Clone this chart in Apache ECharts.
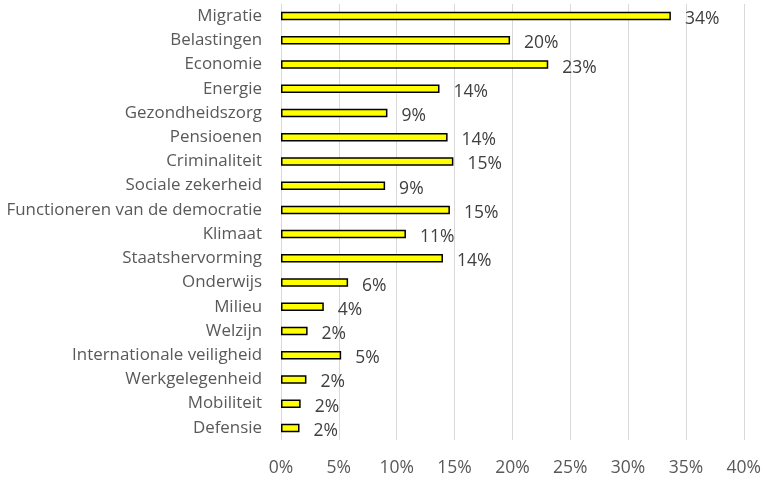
<!DOCTYPE html>
<html><head><meta charset="utf-8">
<script src="https://cdn.jsdelivr.net/npm/echarts@6/dist/echarts.min.js"></script>
<style>html,body{margin:0;padding:0;background:#fff}#c{width:764px;height:481px}</style>
</head><body><div id="c"></div>
<script>
const categories = ["Migratie","Belastingen","Economie","Energie","Gezondheidszorg","Pensioenen","Criminaliteit","Sociale zekerheid","Functioneren van de democratie","Klimaat","Staatshervorming","Onderwijs","Milieu","Welzijn","Internationale veiligheid","Werkgelegenheid","Mobiliteit","Defensie"];
const values = [33.7,19.8,23.1,13.7,9.2,14.4,14.9,9.0,14.6,10.8,14.0,5.8,3.7,2.3,5.2,2.2,1.7,1.6];
const xTicks = [0,5,10,15,20,25,30,35,40];

const chart = echarts.init(document.getElementById('c'), null, {renderer:'canvas'});
const font = '"Open Sans", sans-serif';
chart.setOption({
  animation:false,
  grid:{left:281, right:19.3, top:4, bottom:41, containLabel:false},
  xAxis:{type:'value', min:xTicks[0], max:xTicks[xTicks.length-1], interval:xTicks[1]-xTicks[0],
    axisLine:{show:false}, axisTick:{show:false},
    splitLine:{show:true, lineStyle:{color:'#d9d9d9', width:1}},
    axisLabel:{formatter:v=>v+'%', color:'#595959', fontSize:17.5, fontFamily:font, margin:19}},
  yAxis:{type:'category', inverse:true, data:categories,
    axisLine:{show:false}, axisTick:{show:false},
    axisLabel:{color:'#595959', fontSize:16.9, fontFamily:font, margin:19, verticalAlign:'middle', padding:[3,0,0,0]}},
  series:[{type:'bar', data:values, barWidth:8.5,
    itemStyle:{color:'#ffff00', borderColor:'#000', borderWidth:1.5},
    label:{show:true, position:'right', distance:14, offset:[0,3], formatter:p=>Math.round(p.value)+'%',
      color:'#404040', fontSize:17.5, fontFamily:font}}]
});
</script></body></html>
